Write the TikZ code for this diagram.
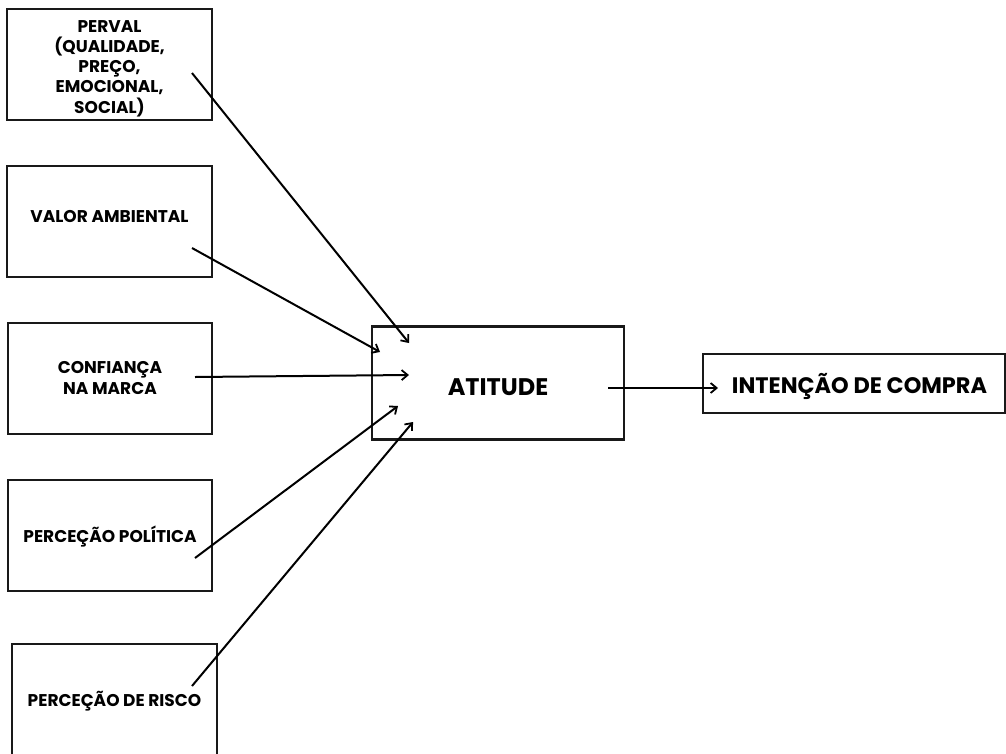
\documentclass[tikz,border=0pt]{standalone}
\usepackage{fontspec}
\setmainfont{Poppins}[BoldFont=* Bold]
\usetikzlibrary{arrows.meta}
\begin{document}
\begin{tikzpicture}[x=1pt,y=-1pt,
  box/.style={draw=black!90,line width=2.1pt,inner sep=0pt},
  txt/.style={inner sep=0pt,align=center,font=\bfseries\fontsize{17}{20.3}\selectfont},
  txtbig/.style={txt,font=\bfseries\fontsize{24}{26}\selectfont},
  txtmid/.style={txt,font=\bfseries\fontsize{22.4}{26}\selectfont},
  link/.style={line width=2pt,-{Straight Barb[length=6pt,width=10pt,line width=1.8pt]}}]
\useasboundingbox (0,0) rectangle (1006,753);
\begin{scope}
\clip (0,0) rectangle (1006,753);
\node[box,minimum width=205pt,minimum height=111pt,
  label={[txt,yshift=-4pt]center:PERVAL\\(QUALIDADE,\\PREÇO,\\EMOCIONAL,\\SOCIAL)}] (perval) at (109.5,64.5) {};
\node[box,minimum width=205pt,minimum height=111pt,
  label={[txt,yshift=4.5pt]center:VALOR AMBIENTAL}] (valor) at (109.5,221.5) {};
\node[box,minimum width=204pt,minimum height=111pt,
  label={[txt,yshift=0.5pt]center:CONFIANÇA\\NA MARCA}] (conf) at (110,378.5) {};
\node[box,minimum width=204pt,minimum height=111pt,
  label={[txt,yshift=-0.5pt]center:PERCEÇÃO POLÍTICA}] (pol) at (110,535.5) {};
\node[box,minimum width=205pt,minimum height=112pt,
  label={[txt,yshift=-1pt]center:PERCEÇÃO DE RISCO}] (risco) at (114.5,700) {};
\node[box,minimum width=252pt,minimum height=113pt,
  label={[txtbig,yshift=-4pt]center:ATITUDE}] (att) at (498,383) {};
\node[box,minimum width=302pt,minimum height=59pt,
  label={[txtmid,xshift=5.5pt,yshift=-3pt]center:INTENÇÃO DE COMPRA}] (int) at (854,383.5) {};
\end{scope}
\coordinate (p1) at (192,73);
\coordinate (p2) at (409,343);
\coordinate (v1) at (192,248);
\coordinate (v2) at (380,352);
\coordinate (c1) at (195,377);
\coordinate (c2) at (409,375);
\coordinate (o1) at (195,558);
\coordinate (o2) at (398,406);
\coordinate (r1) at (192,686);
\coordinate (r2) at (413,422);
\coordinate (a1) at (608,388);
\coordinate (a2) at (718,388);
\draw[link] (p1) -- (p2);
\draw[link] (v1) -- (v2);
\draw[link] (c1) -- (c2);
\draw[link] (o1) -- (o2);
\draw[link] (r1) -- (r2);
\draw[link] (a1) -- (a2);
\end{tikzpicture}
\end{document}
